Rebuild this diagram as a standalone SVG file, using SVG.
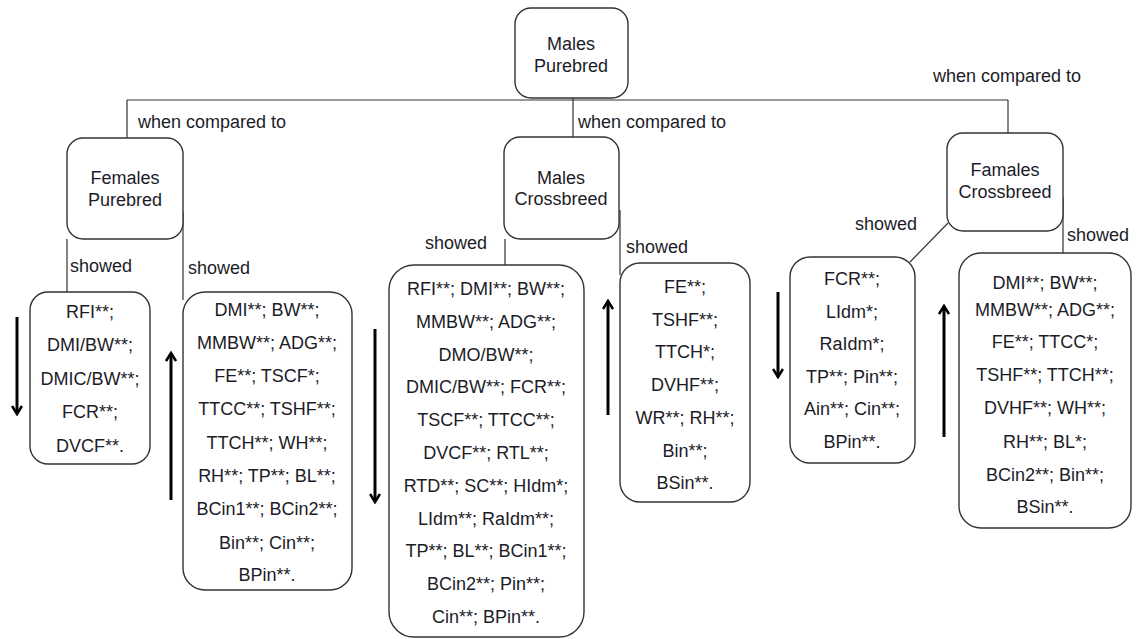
<svg xmlns="http://www.w3.org/2000/svg" width="1140" height="639" viewBox="0 0 1140 639">
<defs>
<style>
.box{fill:#fff;stroke:#333;stroke-width:1.4}
.t{font-family:"Liberation Sans",Arial,sans-serif;font-size:18px;fill:#1c1c28;text-anchor:middle}
.l{font-family:"Liberation Sans",Arial,sans-serif;font-size:18px;fill:#1c1c28}
.c{fill:none;stroke:#333;stroke-width:1.2}
.a{fill:none;stroke:#000;stroke-width:3;marker-end:url(#ah)}
</style>
<marker id="ah" viewBox="0 0 12 12" refX="10" refY="6" markerWidth="12" markerHeight="12" markerUnits="userSpaceOnUse" orient="auto">
<path d="M2,1 L10,6 L2,11" fill="none" stroke="#000" stroke-width="2.6"/>
</marker>
</defs>
<rect width="1140" height="639" fill="#fff"/>
<g id="connectors">
<path class="c" d="M127 100 H1008"/>
<path class="c" d="M127 100 V138"/>
<path class="c" d="M573 98 V137"/>
<path class="c" d="M1008 100 V133"/>
<path class="c" d="M67 239 V292"/>
<path class="c" d="M183 212 V300"/>
<path class="c" d="M505 239 V265"/>
<path class="c" d="M620 210 V275"/>
<path class="c" d="M948 223 L910 262"/>
<path class="c" d="M1063 197 V253"/>
</g>
<g id="labels">
<text class="l" x="138" y="128">when compared to</text>
<text class="l" x="578" y="128">when compared to</text>
<text class="l" x="933" y="82">when compared to</text>
<text class="l" x="70" y="272">showed</text>
<text class="l" x="188" y="274">showed</text>
<text class="l" x="425" y="249">showed</text>
<text class="l" x="626" y="253">showed</text>
<text class="l" x="855" y="230">showed</text>
<text class="l" x="1067" y="241">showed</text>
</g>
<g id="arrows">
<path class="a" d="M17 317 V414"/>
<path class="a" d="M171 500 V353"/>
<path class="a" d="M375 329 V502"/>
<path class="a" d="M608 415 V301"/>
<path class="a" d="M778 292 V377"/>
<path class="a" d="M944 437 V306"/>
</g>
<g id="males-purebred">
<rect class="box" x="515" y="8" width="113" height="90" rx="16"/>
<text class="t" x="571" y="50">Males</text>
<text class="t" x="571" y="72">Purebred</text>
</g>
<g id="females-purebred">
<rect class="box" x="67" y="138" width="116" height="101" rx="16"/>
<text class="t" x="125" y="184">Females</text>
<text class="t" x="125" y="206">Purebred</text>
</g>
<g id="males-crossbreed">
<rect class="box" x="504" y="137" width="115" height="102" rx="16"/>
<text class="t" x="561" y="184">Males</text>
<text class="t" x="561" y="205">Crossbreed</text>
</g>
<g id="famales-crossbreed">
<rect class="box" x="947" y="133" width="116" height="98" rx="16"/>
<text class="t" x="1005" y="176">Famales</text>
<text class="t" x="1005" y="198">Crossbreed</text>
</g>
<g id="fp-down">
<rect class="box" x="30" y="292" width="120" height="172" rx="18"/>
<text class="t" x="90" y="318">RFI**;</text>
<text class="t" x="90" y="351">DMI/BW**;</text>
<text class="t" x="90" y="385">DMIC/BW**;</text>
<text class="t" x="90" y="418">FCR**;</text>
<text class="t" x="90" y="452">DVCF**.</text>
</g>
<g id="fp-up">
<rect class="box" x="183" y="292" width="169" height="298" rx="22"/>
<text class="t" x="267" y="316">DMI**; BW**;</text>
<text class="t" x="267" y="349">MMBW**;  ADG**;</text>
<text class="t" x="267" y="382">FE**; TSCF*;</text>
<text class="t" x="267" y="415">TTCC**; TSHF**;</text>
<text class="t" x="267" y="449">TTCH**; WH**;</text>
<text class="t" x="267" y="482">RH**; TP**; BL**;</text>
<text class="t" x="267" y="515">BCin1**; BCin2**;</text>
<text class="t" x="267" y="549">Bin**; Cin**;</text>
<text class="t" x="267" y="581">BPin**.</text>
</g>
<g id="mc-down">
<rect class="box" x="389" y="265" width="195" height="372" rx="25"/>
<text class="t" x="486" y="295">RFI**; DMI**; BW**;</text>
<text class="t" x="486" y="328">MMBW**;  ADG**;</text>
<text class="t" x="486" y="361">DMO/BW**;</text>
<text class="t" x="486" y="393">DMIC/BW**; FCR**;</text>
<text class="t" x="486" y="426">TSCF**; TTCC**;</text>
<text class="t" x="486" y="459">DVCF**; RTL**;</text>
<text class="t" x="486" y="492">RTD**; SC**; HIdm*;</text>
<text class="t" x="486" y="525">LIdm**; RaIdm**;</text>
<text class="t" x="486" y="557">TP**; BL**; BCin1**;</text>
<text class="t" x="486" y="590">BCin2**;  Pin**;</text>
<text class="t" x="486" y="623">Cin**; BPin**.</text>
</g>
<g id="mc-up">
<rect class="box" x="620" y="263" width="130" height="239" rx="20"/>
<text class="t" x="685" y="293">FE**;</text>
<text class="t" x="685" y="326">TSHF**;</text>
<text class="t" x="685" y="358">TTCH*;</text>
<text class="t" x="685" y="391">DVHF**;</text>
<text class="t" x="685" y="424">WR**; RH**;</text>
<text class="t" x="685" y="457">Bin**;</text>
<text class="t" x="685" y="489">BSin**.</text>
</g>
<g id="fc-down">
<rect class="box" x="790" y="257" width="125" height="206" rx="20"/>
<text class="t" x="852" y="285">FCR**;</text>
<text class="t" x="852" y="318">LIdm*;</text>
<text class="t" x="852" y="350">RaIdm*;</text>
<text class="t" x="852" y="383">TP**;  Pin**;</text>
<text class="t" x="852" y="415">Ain**; Cin**;</text>
<text class="t" x="852" y="448">BPin**.</text>
</g>
<g id="fc-up">
<rect class="box" x="959" y="253" width="172" height="275" rx="22"/>
<text class="t" x="1045" y="289">DMI**; BW**;</text>
<text class="t" x="1045" y="316">MMBW**; ADG**;</text>
<text class="t" x="1045" y="348">FE**; TTCC*;</text>
<text class="t" x="1045" y="381">TSHF**; TTCH**;</text>
<text class="t" x="1045" y="414">DVHF**; WH**;</text>
<text class="t" x="1045" y="448">RH**; BL*;</text>
<text class="t" x="1045" y="481">BCin2**; Bin**;</text>
<text class="t" x="1045" y="513">BSin**.</text>
</g>
</svg>
